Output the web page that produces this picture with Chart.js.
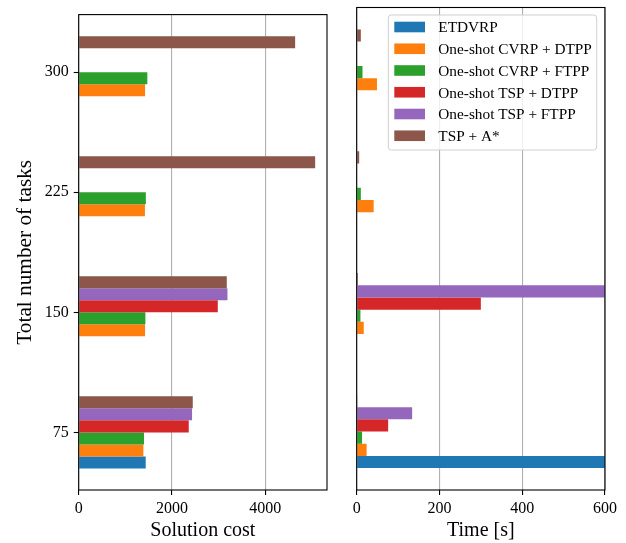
<!DOCTYPE html>
<html>
<head>
<meta charset="utf-8">
<script src="https://cdn.jsdelivr.net/npm/chart.js@4.4.1/dist/chart.umd.min.js"></script>
<style>
  body { margin: 0; background: #fff; }
  #wrap { position: relative; width: 626px; height: 543px; }
  canvas { position: absolute; top: 0; }
</style>
</head>
<body>
<div id="wrap">
  <canvas id="costChart" width="342" height="543" style="left:0"></canvas>
  <canvas id="timeChart" width="284" height="543" style="left:342px"></canvas>
</div>
<script>
// number of tasks per scenario (y categories)
const tasks = [75, 150, 225, 300];
const methods = ['ETDVRP', 'One-shot CVRP + DTPP', 'One-shot CVRP + FTPP',
                 'One-shot TSP + DTPP', 'One-shot TSP + FTPP', 'TSP + A*'];
const colors = ['#1f77b4', '#ff7f0e', '#2ca02c', '#d62728', '#9467bd', '#8c564b'];

// solution cost, one list per method (null = not run)
const costEtdvrp   = [1437, null, null, null];
const costCvrpDtpp = [1387, 1423, 1420, 1423];
const costCvrpFtpp = [1401, 1430, 1440, 1472];
const costTspDtpp  = [2360, 2983, null, null];
const costTspFtpp  = [2431, 3190, null, null];
const costTspAstar = [2446, 3176, 5071, 4642];

// computation time [s]
const timeEtdvrp   = [620, null, null, null];
const timeCvrpDtpp = [24, 17, 41, 49];
const timeCvrpFtpp = [13, 9, 10, 14];
const timeTspDtpp  = [76, 300, null, null];
const timeTspFtpp  = [134, 620, null, null];
const timeTspAstar = [1, 3, 6, 10];

const costTicks = [0, 2000, 4000];
const timeTicks = [0, 200, 400, 600];
const taskTicks = [75, 150, 225, 300];

const costSeries = [costEtdvrp, costCvrpDtpp, costCvrpFtpp, costTspDtpp, costTspFtpp, costTspAstar];
const timeSeries = [timeEtdvrp, timeCvrpDtpp, timeCvrpFtpp, timeTspDtpp, timeTspFtpp, timeTspAstar];

const serif = '"Liberation Serif", "Times New Roman", serif';

// build datasets, last method first so ETDVRP ends up at the bottom of each group
function makeDatasets(series) {
  const out = [];
  for (let i = series.length - 1; i >= 0; i--) {
    out.push({
      label: methods[i],
      data: tasks.map((t, j) => ({ y: t, x: series[i][j] })),
      backgroundColor: colors[i],
      borderWidth: 0
    });
  }
  return out;
}

// black box around the plot area + optional legend
const framePlugin = {
  id: 'frame',
  afterDraw(chart, args, opts) {
    const ctx = chart.ctx;
    const a = chart.chartArea;
    ctx.save();
    ctx.strokeStyle = '#000';
    ctx.lineWidth = 1.1;
    ctx.strokeRect(a.left, a.top, a.right - a.left, a.bottom - a.top);
    if (opts.legend) {
      const L = opts.legend;
      ctx.beginPath();
      if (ctx.roundRect) ctx.roundRect(L.x, L.y, L.w, L.h, 3);
      else ctx.rect(L.x, L.y, L.w, L.h);
      ctx.fillStyle = 'rgba(255,255,255,0.8)';
      ctx.fill();
      ctx.strokeStyle = '#d0d0d0';
      ctx.lineWidth = 1;
      ctx.stroke();
      const sets = chart.data.datasets.slice().reverse();
      ctx.font = '15.3px ' + serif;
      ctx.textBaseline = 'alphabetic';
      sets.forEach((ds, i) => {
        const cy = L.y + 12 + i * 21.75;
        ctx.fillStyle = ds.backgroundColor;
        ctx.fillRect(L.x + 6, cy - 5.3, 30.7, 10.6);
        ctx.fillStyle = '#000';
        ctx.fillText(ds.label, L.x + 50, cy + 5.3);
      });
    }
    ctx.restore();
  }
};

function makeChart(id, series, xMax, xTicks, xTitle, showY, pad, legend) {
  const ctx = document.getElementById(id).getContext('2d');
  return new Chart(ctx, {
    type: 'bar',
    data: { datasets: makeDatasets(series) },
    plugins: [framePlugin],
    options: {
      indexAxis: 'y',
      responsive: false,
      animation: false,
      devicePixelRatio: 1,
      categoryPercentage: 0.6,
      barPercentage: 1.0,
      layout: { padding: pad },
      plugins: {
        legend: { display: false },
        tooltip: { enabled: false },
        frame: { legend: legend }
      },
      scales: {
        x: {
          type: 'linear',
          min: 0,
          max: xMax,
          z: 1,
          afterBuildTicks: s => { s.ticks = xTicks.map(v => ({ value: v })); },
          afterFit: s => { s.height = 53; },
          grid: { color: '#b0b0b0', lineWidth: 1.1, tickColor: '#000', tickLength: 5, tickWidth: 1.1 },
          border: { display: false },
          ticks: { color: '#000', padding: 4, font: { family: serif, size: 16 }, maxRotation: 0,
                   callback: v => String(v) },
          title: { display: true, text: xTitle, color: '#000', padding: { top: 0, bottom: 0 },
                   font: { family: serif, size: 20 } }
        },
        y: {
          type: 'linear',
          display: showY,
          min: 39,
          max: 336,
          offset: false,
          afterBuildTicks: s => { s.ticks = taskTicks.map(v => ({ value: v })); },
          afterFit: s => { s.width = showY ? 78.7 : 0; },
          grid: { offset: false, drawOnChartArea: false, tickColor: '#000', tickLength: 5, tickWidth: 1.1 },
          border: { display: false },
          ticks: { color: '#000', padding: 5, font: { family: serif, size: 16 }, callback: v => String(v) },
          title: { display: true, text: 'Total number of tasks', color: '#000', padding: { top: 13, bottom: 0 },
                   font: { family: serif, size: 21.3 } }
        }
      }
    }
  });
}

makeChart('costChart', costSeries, 5325, costTicks, 'Solution cost', true,
          { left: 0, top: 7.5, right: 15, bottom: 0 }, null);
makeChart('timeChart', timeSeries, 600, timeTicks, 'Time [s]', false,
          { left: 14.7, top: 7.5, right: 21, bottom: 0 },
          { x: 46.3, y: 15, w: 208.4, h: 135 });
</script>
</body>
</html>
